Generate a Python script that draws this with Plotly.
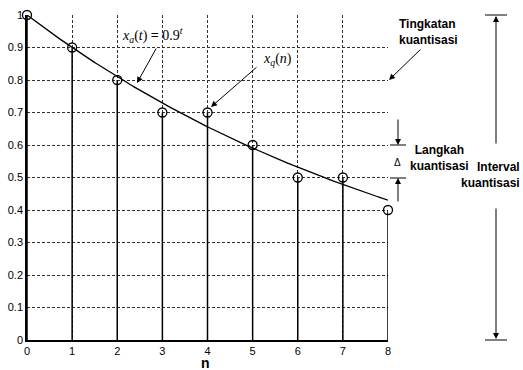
import numpy as np
import plotly.graph_objects as go

n_vals = [0, 1, 2, 3, 4, 5, 6, 7, 8]
xq_vals = [1.0, 0.9, 0.8, 0.7, 0.7, 0.6, 0.5, 0.5, 0.4]
base = 0.9
y_ticks = [0, 0.1, 0.2, 0.3, 0.4, 0.5, 0.6, 0.7, 0.8, 0.9, 1.0]
y_tick_text = ["0", "0.1", "0.2", "0.3", "0.4", "0.5", "0.6", "0.7", "0.8", "0.9", "1"]
x_ticks = n_vals

t = np.linspace(0, 8, 200)
xa = base ** t

stem_x, stem_y = [], []
for n, v in zip(n_vals, xq_vals):
    stem_x += [n, n, None]
    stem_y += [0, v, None]

fig = go.Figure()
fig.add_trace(go.Scatter(x=stem_x, y=stem_y, mode="lines",
                         line=dict(color="black", width=1.5), hoverinfo="skip"))
fig.add_trace(go.Scatter(x=t, y=xa, mode="lines", line=dict(color="black", width=1.3)))
fig.add_trace(go.Scatter(x=n_vals, y=xq_vals, mode="markers",
                         marker=dict(symbol="circle-open", size=9, color="black",
                                     line=dict(width=1.3)), cliponaxis=False))

L, R, T, B = 27, 135, 15, 30
W, H = 523, 370
pw, ph = W - L - R, H - T - B

def px(xp):
    return (xp - L) / pw

def py(yp):
    return (H - B - yp) / ph

axis_font = dict(family="Arial, Liberation Sans, sans-serif", size=11, color="black")

fig.update_layout(
    width=W, height=H,
    margin=dict(l=L, r=R, t=T, b=B, autoexpand=False),
    plot_bgcolor="white", paper_bgcolor="white",
    showlegend=False,
    font=axis_font,
    xaxis=dict(range=[0, 8], tickvals=x_ticks, showgrid=True, gridcolor="#333",
               griddash="3px,2px", gridwidth=1, showline=True, linecolor="black",
               linewidth=1.5, zeroline=False, ticks="", tickfont=axis_font,
               automargin=False),
    yaxis=dict(range=[0, 1], tickvals=y_ticks, ticktext=y_tick_text, showgrid=True,
               gridcolor="#333", griddash="3px,2px", gridwidth=1, showline=True,
               linecolor="black", linewidth=1.5, zeroline=False, ticks="",
               tickfont=axis_font, automargin=False),
)

bold_font = dict(family="Arial, Liberation Sans, sans-serif", size=12, color="black")
serif_font = dict(family="Liberation Serif, DejaVu Serif, serif", size=14, color="black")

def arrow(hx, hy, tx, ty):
    fig.add_annotation(xref="paper", yref="paper", x=px(hx), y=py(hy),
                       ax=tx - hx, ay=ty - hy, axref="pixel", ayref="pixel",
                       text="", showarrow=True, arrowhead=2, arrowsize=1.2, arrowwidth=1,
                       arrowcolor="black")

def label(xp, yp, text, font, align="center", xanchor="center"):
    fig.add_annotation(xref="paper", yref="paper", x=px(xp), y=py(yp), text=text,
                       xanchor=xanchor, yanchor="middle", borderpad=0,
                       showarrow=False, font=font, align=align)

label(205, 363, "<b>n</b>", dict(family="Arial, Liberation Sans, sans-serif", size=14, color="black"))
label(152, 35, "<i>x<sub>a</sub></i>(<i>t</i>) <b>=</b> 0.9<sup><i>t</i></sup>", serif_font)
arrow(137, 83, 157, 47)
label(277, 59, "<i>x<sub>q</sub></i>(<i>n</i>)", serif_font)
arrow(211, 107, 258, 66)
label(428, 32, "<b>Tingkatan<br>kuantisasi</b>", bold_font, "left")
arrow(389, 80, 422, 48)
label(439, 158, "<b>Langkah<br>kuantisasi</b>", bold_font)
label(397, 162, "Δ", dict(size=10, color="black"))
arrow(398, 145, 398, 118)
arrow(398, 178, 398, 203)
for yy in (145, 178):
    fig.add_shape(type="line", xref="paper", yref="paper", x0=px(390), x1=px(406),
                  y0=py(yy), y1=py(yy), line=dict(color="black", width=1))
label(521, 175, "<b>Interval<br>kuantisasi</b>", bold_font, "right", "right")
arrow(496, 16, 496, 145)
arrow(496, 339, 496, 207)
for yy in (15, 340):
    fig.add_shape(type="line", xref="paper", yref="paper", x0=px(485), x1=px(507),
                  y0=py(yy), y1=py(yy), line=dict(color="black", width=1))

fig.write_html("out.html", config={"displayModeBar": False},
               post_script="document.body.style.margin='0';")
